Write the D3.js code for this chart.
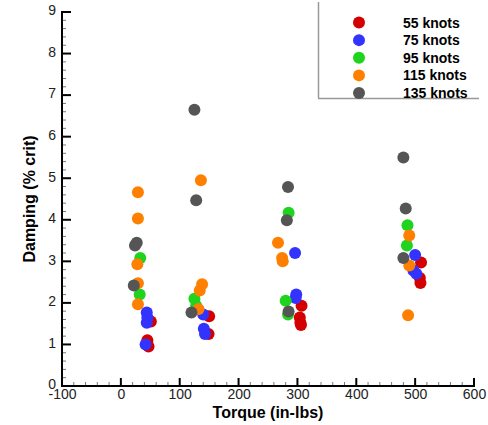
<!DOCTYPE html>
<html><head><meta charset="utf-8">
<script src="https://cdn.jsdelivr.net/npm/d3@7"></script>
<style>body{margin:0;background:#fff}svg{display:block}text{font-family:Arial,"Liberation Sans",sans-serif}</style>
</head><body>
<svg id="c" width="488" height="425"></svg>
<script>
const seriesNames = ["55 knots","75 knots","95 knots","115 knots","135 knots"];
const seriesColors = ["#d40000","#3333ff","#1ed41e","#ff8000","#555555"];
const torque55 = [51,45,47,150,149,307,304,305,306,510,508,509];
const damp55   = [1.55,1.1,0.95,1.68,1.25,1.93,1.65,1.52,1.47,2.97,2.6,2.48];
const torque75 = [44,45,44,42,140,141,143,296,298,297,500,497,502];
const damp75   = [1.77,1.65,1.52,1.0,1.72,1.38,1.25,3.2,2.2,2.12,3.15,2.78,2.7];
const torque95 = [33,32,125,128,285,280,284,487,486];
const damp95   = [3.08,2.2,2.1,1.93,4.17,2.05,1.72,3.87,3.38];
const torque115 = [29,29,28,29,29,136,138,134,132,267,274,275,490,490,488];
const damp115   = [4.66,4.03,2.93,2.47,1.97,4.95,2.45,2.3,1.85,3.45,3.08,3.0,3.62,2.9,1.7];
const torque135 = [24,27,22,125,128,120,284,282,285,480,484,480];
const damp135   = [3.38,3.45,2.42,6.65,4.47,1.77,4.79,3.99,1.79,5.5,4.27,3.08];
const xTicks = [-100,0,100,200,300,400,500,600];
const yTicks = [0,1,2,3,4,5,6,7,8,9];

const series = [
  {t:torque55,d:damp55},{t:torque75,d:damp75},{t:torque95,d:damp95},
  {t:torque115,d:damp115},{t:torque135,d:damp135}
];

const svg = d3.select("#c");
const x = d3.scaleLinear().domain([-100,600]).range([62,474]);
const y = d3.scaleLinear().domain([0,9]).range([386,12]);

// minor ticks
const g = svg.append("g");
const xMinor = d3.range(-100,601,20).filter(v=>v%100!==0);
const yMinor = d3.range(0,9.01,0.2).map(v=>+v.toFixed(1)).filter(v=>Math.abs(v-Math.round(v))>1e-6);
g.selectAll(".xm").data(xMinor).join("line")
  .attr("x1",d=>x(d)).attr("x2",d=>x(d)).attr("y1",386).attr("y2",382)
  .attr("stroke","#777").attr("stroke-width",1);
g.selectAll(".ym").data(yMinor).join("line")
  .attr("y1",d=>y(d)).attr("y2",d=>y(d)).attr("x1",62).attr("x2",66)
  .attr("stroke","#777").attr("stroke-width",1);

// axes
const xAxis = d3.axisBottom(x).tickValues(xTicks).tickFormat(d=>String(d)).tickSize(0).tickPadding(3);
const yAxis = d3.axisLeft(y).tickValues(yTicks).tickFormat(d=>String(d)).tickSize(0).tickPadding(6);
const gx = svg.append("g").attr("transform","translate(0,386)").call(xAxis);
const gy = svg.append("g").attr("transform","translate(62,0)").call(yAxis);
[gx,gy].forEach(a=>{a.select(".domain").remove();a.selectAll("text").attr("font-size",14).attr("fill","#222").attr("font-family","Arial, Liberation Sans, sans-serif");});
gy.selectAll("text").attr("dy","0.2em");
// major ticks inward
g.selectAll(".xM").data(xTicks).join("line")
  .attr("x1",d=>x(d)).attr("x2",d=>x(d)).attr("y1",386).attr("y2",378)
  .attr("stroke","#000").attr("stroke-width",2);
g.selectAll(".yM").data(yTicks).join("line")
  .attr("y1",d=>y(d)).attr("y2",d=>y(d)).attr("x1",62).attr("x2",71)
  .attr("stroke","#000").attr("stroke-width",2);
// axis lines
svg.append("line").attr("x1",62).attr("x2",62).attr("y1",11).attr("y2",387).attr("stroke","#000").attr("stroke-width",2);
svg.append("line").attr("x1",61).attr("x2",475).attr("y1",386).attr("y2",386).attr("stroke","#000").attr("stroke-width",2);

// titles
svg.append("text").attr("x",268).attr("y",418).attr("text-anchor","middle")
  .attr("font-size",16).attr("font-weight","bold").text("Torque (in-lbs)");
svg.append("text").attr("transform","translate(35,199) rotate(-90)").attr("text-anchor","middle")
  .attr("font-size",16).attr("font-weight","bold").text("Damping (% crit)");

// points
series.forEach((s,i)=>{
  svg.append("g").selectAll("circle").data(s.t.map((t,j)=>[t,s.d[j]])).join("circle")
    .attr("cx",d=>x(d[0])).attr("cy",d=>y(d[1])).attr("r",6)
    .attr("fill",seriesColors[i]);
});

// legend
const lg = svg.append("g");
lg.append("line").attr("x1",318.5).attr("x2",318.5).attr("y1",2).attr("y2",98).attr("stroke","#999").attr("stroke-width",1.5);
lg.append("line").attr("x1",318).attr("x2",479).attr("y1",98.5).attr("y2",98.5).attr("stroke","#999").attr("stroke-width",1.5);
const ly = d3.scalePoint().domain(seriesNames).range([22.5,93]);
seriesNames.forEach((n,i)=>{
  lg.append("circle").attr("cx",359).attr("cy",ly(n)).attr("r",6).attr("fill",seriesColors[i]);
  lg.append("text").attr("x",403).attr("y",ly(n)).attr("dy","0.36em")
    .attr("font-size",14).attr("font-weight","bold").text(n);
});
</script>
</body></html>
